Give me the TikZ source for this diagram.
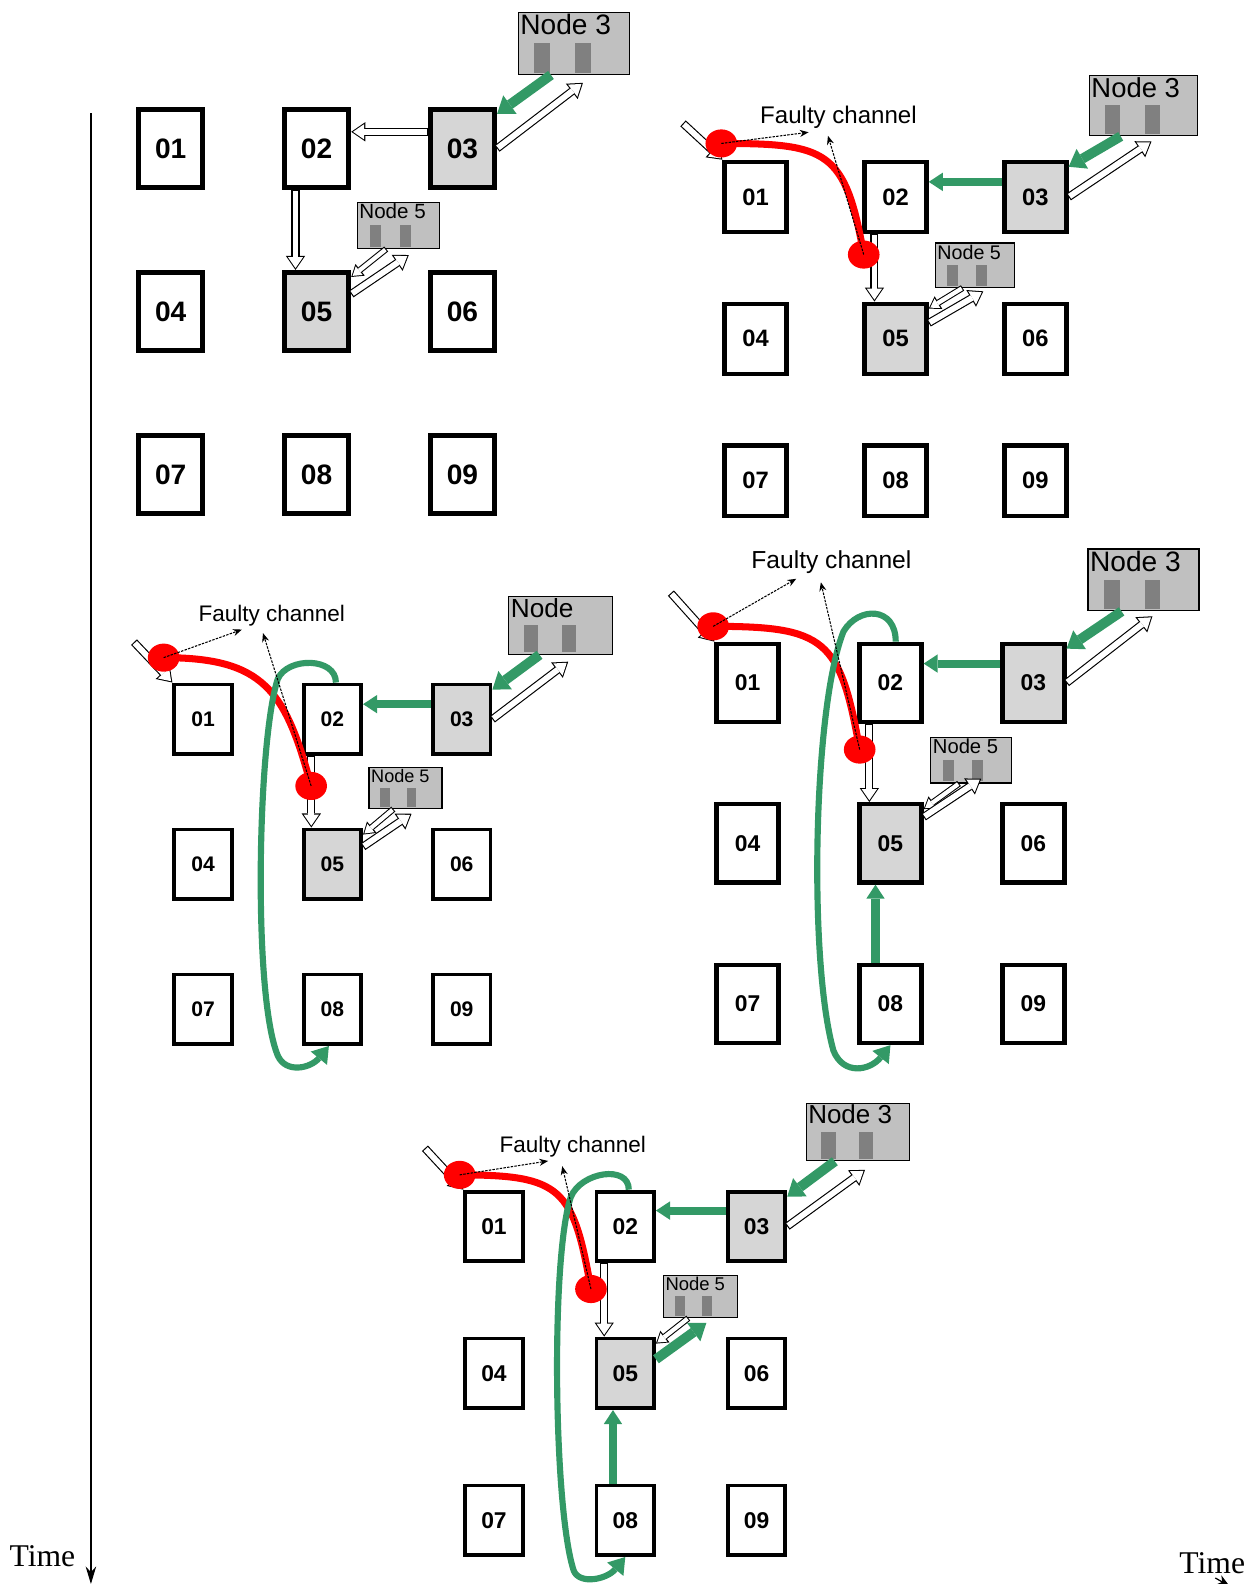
\documentclass[tikz,border=0pt]{standalone}
\usepackage{fontspec}
\setmainfont{Liberation Serif}
\setsansfont{Liberation Sans}
\usetikzlibrary{arrows.meta,calc,positioning,shapes.geometric}
\definecolor{cellGray}{HTML}{D6D6D6}
\definecolor{infoGray}{HTML}{C0C0C0}
\definecolor{barGray}{HTML}{808080}
\definecolor{msgGreen}{HTML}{339966}
\definecolor{faultRed}{HTML}{FF0000}

\newcommand{\bars}{\hspace*{.5em}{\color{barGray}\rule{.55em}{1.05em}}\hspace{.9em}{\color{barGray}\rule{.55em}{1.05em}}}

\tikzset{
  cell/.style={draw, fill=white, rectangle, inner sep=0pt, font=\sffamily\bfseries},
  busy/.style={fill=cellGray},
  info/.style={draw, line width=.7pt, fill=infoGray, inner xsep=.12em, inner ysep=.1em, align=left},
  hollow/.style={line width=4.6pt, -{Triangle[length=8pt,width=11pt,line width=0pt]},
    postaction={draw=white, line width=3.3pt, shorten >=1.05pt, shorten <=.65pt,
      -{Triangle[length=6.3pt,width=8.7pt,line width=0pt]}}},
  thinhollow/.style={line width=3.6pt, -{Triangle[length=6.5pt,width=8.5pt,line width=0pt]},
    postaction={draw=white, line width=2.4pt, shorten >=1pt, shorten <=.6pt,
      -{Triangle[length=4.8pt,width=6.3pt,line width=0pt]}}},
  sent/.style={msgGreen, line width=4.6pt, -{Triangle[length=8pt,width=10.5pt,line width=0pt]}},
  feed/.style={msgGreen, line width=5.6pt, -{Triangle[length=9pt,width=13pt,line width=0pt]}},
  loopback/.style={msgGreen, line width=3.5pt, -{Triangle[length=9pt,width=12pt,line width=0pt]}},
  fault/.style={faultRed, line width=4pt},
  faultdot/.style={ellipse, fill=faultRed, minimum width=18pt, minimum height=16pt, inner sep=0pt},
  hint/.style={dash pattern=on 1.4pt off .7pt, line width=.6pt, -{Stealth[length=5pt,width=4pt]}},
  caption/.style={font=\sffamily, inner sep=1pt},
}

\begin{document}
\begin{tikzpicture}[x=0.0202cm, y=-0.0202cm]
  \useasboundingbox (0,0) rectangle (1244,1568);

  % time axis
  \coordinate (timetop) at (90,112);
  \coordinate (timebottom) at (90,1568);
  \draw[line width=.7pt, -{Stealth[length=10pt,width=6pt]}] (timetop) -- (timebottom);
  \node[font=\fontsize{18}{20}\selectfont, inner sep=0pt] (timeL) at (42,1540) {Time};
  \node[font=\fontsize{18}{20}\selectfont, inner sep=0pt] (timeR) at (1200,1547) {Time};
  \coordinate (sweepA) at (1203,1562);
  \coordinate (sweepB) at (1217,1570);
  \draw[line width=.7pt, -{Stealth[length=7pt,width=6pt]}] (sweepA) -- (sweepB);

  % step 1
  \begin{scope}[node distance=92.8pt and 83pt, on grid,
      cell/.append style={minimum width=36.6pt, minimum height=44.6pt, line width=2.8pt,
        font=\sffamily\bfseries\fontsize{16}{19}\selectfont}]
    \node[cell] (a1) at (169,147) {01};
    \node[cell, right=of a1] (a2) {02};
    \node[cell, busy, right=of a2] (a3) {03};
    \node[cell, below=of a1] (a4) {04};
    \node[cell, busy, right=of a4] (a5) {05};
    \node[cell, right=of a5] (a6) {06};
    \node[cell, below=of a4] (a7) {07};
    \node[cell, right=of a7] (a8) {08};
    \node[cell, right=of a8] (a9) {09};
    \node[info, font=\sffamily\fontsize{16}{21.6}\selectfont] (a3info) at (568,43) {\makebox[3.8em][l]{Node 3}\\\bars};
    \node[info, font=\sffamily\fontsize{11.7}{15.8}\selectfont] (a5info) at (394.5,223) {\makebox[3.8em][l]{Node 5}\\\bars};
    \coordinate (a3up) at ([shift={(85,-65)}]a3.east);
    \coordinate (a5up) at ([shift={(57,-56)}]a5.east);
    \draw[hollow] ([yshift=9.5pt]a3.west) -- ([yshift=9.5pt]a2.east);
    \draw[hollow] ([xshift=-12pt]a2.south) -- ([xshift=-12pt]a5.north);
    \draw[feed] ([xshift=-13pt]a3info.south) -- ([yshift=-4pt]a3.north east);
    \draw[hollow] (a3.east) -- (a3up);
    \draw[thinhollow] ([xshift=-7pt]a5info.south) -- ([yshift=-4pt]a5.north east);
    \draw[hollow] ([yshift=10pt]a5.east) -- (a5up);
  \end{scope}

  % step 2
  \begin{scope}[node distance=80.7pt and 79.6pt, on grid,
      cell/.append style={minimum width=35.3pt, minimum height=39.9pt, line width=2.5pt,
        font=\sffamily\bfseries\fontsize{13.5}{16}\selectfont}]
    \node[cell] (b1) at (748,195) {01};
    \node[cell, right=of b1] (b2) {02};
    \node[cell, busy, right=of b2] (b3) {03};
    \node[cell, below=of b1] (b4) {04};
    \node[cell, busy, right=of b4] (b5) {05};
    \node[cell, right=of b5] (b6) {06};
    \node[cell, below=of b4] (b7) {07};
    \node[cell, right=of b7] (b8) {08};
    \node[cell, right=of b8] (b9) {09};
    \node[info, font=\sffamily\fontsize{15.6}{21}\selectfont] (b3info) at (1132,104.5) {\makebox[3.8em][l]{Node 3}\\\bars};
    \node[info, font=\sffamily\fontsize{11.2}{15.1}\selectfont] (b5info) at (965,262.5) {\makebox[3.8em][l]{Node 5}\\\bars};
    \node[caption, font=\sffamily\fontsize{13.7}{16}\selectfont] (btext) at (830,116) {Faulty channel};
    \coordinate (b3up) at ([shift={(82,-55)}]b3.east);
    \coordinate (b5up) at ([shift={(54,-47)}]b5.east);
    \coordinate (b1in) at ([shift={(-39,-36)}]b1.north west);
    \draw[sent] ([yshift=8.6pt]b3.west) -- ([yshift=8.6pt]b2.east);
    \draw[hollow] ([xshift=-12pt]b2.south) -- ([xshift=-12pt]b5.north);
    \draw[feed] ([xshift=-13pt]b3info.south) -- ([yshift=-4pt]b3.north east);
    \draw[hollow] (b3.east) -- (b3up);
    \draw[thinhollow] ([xshift=-7pt]b5info.south) -- ([yshift=-4pt]b5.north east);
    \draw[hollow] ([yshift=9pt]b5.east) -- (b5up);
    \draw[hollow] (b1in) -- (b1.north west);
    \draw[fault] (714,142) to[out=0, in=100, looseness=1.5] (855,252);
    \node[faultdot] (b1dot) at (714,142) {};
    \node[faultdot] (b2dot) at (855,252) {};
    \draw[hint] (b1dot.center) -- ([xshift=-17pt,yshift=-1pt]btext.south);
    \draw[hint] (b2dot.center) -- ([xshift=-6pt,yshift=-3pt]btext.south);
  \end{scope}

  % step 3
  \begin{scope}[node distance=82.5pt and 73.6pt, on grid,
      cell/.append style={minimum width=32.7pt, minimum height=39.6pt, line width=2.2pt,
        font=\sffamily\bfseries\fontsize{12}{14}\selectfont}]
    \node[cell] (c1) at (201,712) {01};
    \node[cell, right=of c1] (c2) {02};
    \node[cell, busy, right=of c2] (c3) {03};
    \node[cell, below=of c1] (c4) {04};
    \node[cell, busy, right=of c4] (c5) {05};
    \node[cell, right=of c5] (c6) {06};
    \node[cell, below=of c4] (c7) {07};
    \node[cell, right=of c7] (c8) {08};
    \node[cell, right=of c8] (c9) {09};
    \node[info, font=\sffamily\fontsize{14.9}{20.1}\selectfont] (c3info) at (555,619) {\makebox[3.8em][l]{Node}\\\bars};
    \node[info, font=\sffamily\fontsize{10.3}{13.9}\selectfont] (c5info) at (401.5,780) {\makebox[3.8em][l]{Node 5}\\\bars};
    \node[caption, font=\sffamily\fontsize{12.8}{15}\selectfont] (ctext) at (269,609) {Faulty channel};
    \coordinate (c3up) at ([shift={(75,-57)}]c3.east);
    \coordinate (c5up) at ([shift={(48,-50)}]c5.east);
    \coordinate (c1in) at ([shift={(-38,-40)}]c1.north west);
    \draw[sent] ([yshift=8.6pt]c3.west) -- ([yshift=8.6pt]c2.east);
    \draw[hollow] ([xshift=-12pt]c2.south) -- ([xshift=-12pt]c5.north);
    \draw[feed] ([xshift=-12pt]c3info.south) -- ([yshift=-4pt]c3.north east);
    \draw[hollow] (c3.east) -- (c3up);
    \draw[thinhollow] ([xshift=-7pt]c5info.south) -- ([yshift=-4pt]c5.north east);
    \draw[hollow] ([yshift=10pt]c5.east) -- (c5up);
    \draw[hollow] (c1in) -- (c1.north west);
    \draw[fault] (162,651) to[out=0, in=105, looseness=1.3] (308,778);
    \node[faultdot] (c1dot) at (162,651) {};
    \node[faultdot] (c2dot) at (308,778) {};
    \draw[loopback] ([xshift=2pt]c2.north) .. controls +(0,-25) and +(10,-22) .. (275,672)
      .. controls +(-20,60) and +(-25,-60) .. (275,1045)
      .. controls +(8,18) and +(-18,22) .. ([xshift=-2pt]c8.south);
    \draw[hint] (c1dot.center) -- ([xshift=-17pt,yshift=-1pt]ctext.south);
    \draw[hint] (c2dot.center) -- ([xshift=-5pt,yshift=-3pt]ctext.south);
  \end{scope}

  % step 4
  \begin{scope}[node distance=91.3pt and 81.3pt, on grid,
      cell/.append style={minimum width=35.3pt, minimum height=44.5pt, line width=2.5pt,
        font=\sffamily\bfseries\fontsize{13}{15}\selectfont}]
    \node[cell] (d1) at (740,676) {01};
    \node[cell, right=of d1] (d2) {02};
    \node[cell, busy, right=of d2] (d3) {03};
    \node[cell, below=of d1] (d4) {04};
    \node[cell, busy, right=of d4] (d5) {05};
    \node[cell, right=of d5] (d6) {06};
    \node[cell, below=of d4] (d7) {07};
    \node[cell, right=of d7] (d8) {08};
    \node[cell, right=of d8] (d9) {09};
    \node[info, font=\sffamily\fontsize{16}{21.6}\selectfont] (d3info) at (1132,574) {\makebox[3.8em][l]{Node 3}\\\bars};
    \node[info, font=\sffamily\fontsize{11.5}{15.5}\selectfont] (d5info) at (961.5,752.5) {\makebox[3.8em][l]{Node 5}\\\bars};
    \node[caption, font=\sffamily\fontsize{14}{16}\selectfont] (dtext) at (823,556) {Faulty channel};
    \coordinate (d3up) at ([shift={(85,-66)}]d3.east);
    \coordinate (d5up) at ([shift={(57,-64)}]d5.east);
    \coordinate (d1in) at ([shift={(-43,-48)}]d1.north west);
    \draw[sent] ([yshift=11pt]d3.west) -- ([yshift=11pt]d2.east);
    \draw[hollow] ([xshift=-12pt]d2.south) -- ([xshift=-12pt]d5.north);
    \draw[feed] ([xshift=-12.5pt]d3info.south) -- ([yshift=-4pt]d3.north east);
    \draw[hollow] (d3.east) -- (d3up);
    \draw[thinhollow] ([xshift=-7pt]d5info.south) -- ([yshift=-4pt]d5.north east);
    \draw[hollow] ([yshift=15pt]d5.east) -- (d5up);
    \draw[sent] ([xshift=-8.5pt]d8.north) -- ([xshift=-8.5pt]d5.south);
    \draw[hollow] (d1in) -- (d1.north west);
    \draw[fault] (706,620) to[out=0, in=100, looseness=1.5] (851,742);
    \node[faultdot] (d1dot) at (706,620) {};
    \node[faultdot] (d2dot) at (851,742) {};
    \draw[loopback] ([xshift=3pt]d2.north) .. controls +(0,-35) and +(15,-25) .. (835,625)
      .. controls +(-30,75) and +(-25,-90) .. (825,1040)
      .. controls +(10,25) and +(-20,25) .. (d8.south);
    \draw[hint] (d1dot.center) -- ([xshift=-20pt,yshift=-2pt]dtext.south);
    \draw[hint] (d2dot.center) -- ([xshift=-6pt,yshift=-4pt]dtext.south);
  \end{scope}

  % step 5
  \begin{scope}[node distance=83.6pt and 74.7pt, on grid,
      cell/.append style={minimum width=32.7pt, minimum height=39.6pt, line width=2.2pt,
        font=\sffamily\bfseries\fontsize{13}{15}\selectfont}]
    \node[cell] (e1) at (489,1214) {01};
    \node[cell, right=of e1] (e2) {02};
    \node[cell, busy, right=of e2] (e3) {03};
    \node[cell, below=of e1] (e4) {04};
    \node[cell, busy, right=of e4] (e5) {05};
    \node[cell, right=of e5] (e6) {06};
    \node[cell, below=of e4] (e7) {07};
    \node[cell, right=of e7] (e8) {08};
    \node[cell, right=of e8] (e9) {09};
    \node[info, font=\sffamily\fontsize{14.8}{20}\selectfont] (e3info) at (849,1120.5) {\makebox[3.8em][l]{Node 3}\\\bars};
    \node[info, font=\sffamily\fontsize{10.5}{14.2}\selectfont] (e5info) at (693.5,1283.5) {\makebox[3.8em][l]{Node 5}\\\bars};
    \node[caption, font=\sffamily\fontsize{12.8}{15}\selectfont] (etext) at (567,1135) {Faulty channel};
    \coordinate (e3up) at ([shift={(77,-56)}]e3.east);
    \coordinate (e5up) at ([shift={(50,-50)}]e5.east);
    \coordinate (e1in) at ([shift={(-38,-41)}]e1.north west);
    \draw[sent] ([yshift=9pt]e3.west) -- ([yshift=9pt]e2.east);
    \draw[hollow] ([xshift=-12pt]e2.south) -- ([xshift=-12pt]e5.north);
    \draw[feed] ([xshift=-13pt]e3info.south) -- ([yshift=-4pt]e3.north east);
    \draw[hollow] (e3.east) -- (e3up);
    \draw[thinhollow] ([xshift=-7pt]e5info.south) -- ([yshift=-4pt]e5.north east);
    \draw[feed] ([yshift=8pt]e5.east) -- (e5up);
    \draw[sent] ([xshift=-7pt]e8.north) -- ([xshift=-7pt]e5.south);
    \draw[hollow] (e1in) -- (e1.north west);
    \draw[fault] (455,1163) to[out=0, in=100, looseness=1.5] (585,1276);
    \node[faultdot] (e1dot) at (455,1163) {};
    \node[faultdot] (e2dot) at (585,1276) {};
    \draw[loopback] ([xshift=2pt]e2.north) .. controls +(0,-25) and +(10,-25) .. (565,1185)
      .. controls +(-20,60) and +(-20,-60) .. (568,1555)
      .. controls +(6,14) and +(-18,22) .. (e8.south);
    \draw[hint] (e1dot.center) -- ([xshift=-14pt,yshift=-1pt]etext.south);
    \draw[hint] (e2dot.center) -- ([xshift=-6pt,yshift=-4pt]etext.south);
  \end{scope}
\end{tikzpicture}
\end{document}
